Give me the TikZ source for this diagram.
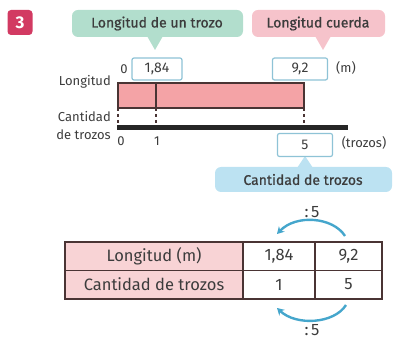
\documentclass[tikz,border=0pt]{standalone}
\usepackage{fontspec}
\setmainfont{Fira Sans}
\usetikzlibrary{arrows.meta}
\definecolor{txt}{HTML}{3C3C3C}
\definecolor{badge}{HTML}{D23A62}
\definecolor{greenc}{HTML}{B2DECD}
\definecolor{pinkc}{HTML}{F6C3CB}
\definecolor{bluec}{HTML}{BCE2F2}
\definecolor{boxb}{HTML}{8EC3D6}
\definecolor{barfill}{HTML}{F4A3A6}
\definecolor{cellpink}{HTML}{F8D3D5}
\definecolor{dark}{HTML}{4A3434}
\definecolor{arrowc}{HTML}{45A6CC}
\begin{document}
\begin{tikzpicture}[x=1pt,y=-1pt,
  every node/.style={text=txt,inner sep=0pt,font=\fontsize{14}{16}\selectfont},
  callout/.style={rounded corners=6pt,inner sep=0pt},
  callouttxt/.style={font=\fontsize{14}{16}\selectfont\addfontfeature{FakeBold=0.8}},
  valbox/.style={draw=boxb,line width=1.2pt,fill=white,rounded corners=2pt,minimum height=22pt,inner sep=0pt},
  smalltxt/.style={font=\fontsize{13}{15}\selectfont},
  tabtxt/.style={font=\fontsize{16.5}{18}\selectfont},
  cell/.style={draw=dark,line width=1.3pt},
  arc/.style={draw=arrowc,line width=2.4pt,-{Stealth[length=7pt,width=8pt]}}]
\useasboundingbox (0,0) rectangle (394,339);
% badge
\node[fill=badge,rounded corners=3.5pt,minimum width=25pt,minimum height=25pt,text=white,font=\bfseries\fontsize{17}{18}\selectfont] (badge) at (20,22.5) {3};
% callouts
\fill[greenc,callout] (72,10) rectangle (243,37);
\fill[greenc] (147,36) -- (163,36) -- (155,50) -- cycle;
\node[callouttxt] (cg) at (157,23.5) {Longitud de un trozo};
\fill[pinkc,callout] (252,10) rectangle (385,37);
\fill[pinkc] (315,36) -- (331,36) -- (323,50) -- cycle;
\node[callouttxt] (cp) at (318,23.5) {Longitud cuerda};
% value boxes
\node[valbox,minimum width=50pt] (b184) at (157,69) {1,84};
\node[valbox,minimum width=55pt] (b92) at (300,69) {9,2};
\node[smalltxt] (z0) at (124,69) {0};
\node[smalltxt] (um) at (346,68) {(m)};
% labels
\node[smalltxt,anchor=east] (lon) at (111,82) {Longitud};
\node[smalltxt,anchor=east] (cant) at (111,117) {Cantidad};
\node[smalltxt,anchor=east] (detr) at (111,135) {de trozos};
% bar
\draw[dark,line width=1.3pt,fill=barfill] (118,83) rectangle (304,108);
\draw[dark,line width=1.3pt] (156,83) -- (156,108);
% dashed
\draw[dark,line width=1.3pt,dash pattern=on 3pt off 3pt] (118,108) -- (118,126);
\draw[dark,line width=1.3pt,dash pattern=on 3pt off 3pt] (156,108) -- (156,126);
\draw[dark,line width=1.3pt,dash pattern=on 3pt off 3pt] (304,108) -- (304,126);
% thick axis
\draw[black!85,line width=4.5pt] (117,127.5) -- (348,127.5);
\node[smalltxt] (x0) at (121,141) {0};
\node[smalltxt] (x1) at (157,141) {1};
% box 5 and blue callout
\fill[bluec,callout] (215,167) rectangle (392,192);
\fill[bluec] (297,168) -- (313,168) -- (305,156) -- cycle;
\node[callouttxt] (cb) at (303,179.5) {Cantidad de trozos};
\node[valbox,minimum width=55pt,minimum height=23pt] (b5) at (305,145) {5};
\node[smalltxt] (ut) at (364,143) {(trozos)};
% table
\path[fill=cellpink] (65,242) rectangle (243,299);
\node[tabtxt] (h1) at (154,256) {Longitud (m)};
\node[tabtxt] (h2) at (154,284.5) {Cantidad de trozos};
\node[tabtxt] (t184) at (279,256) {1,84};
\node[tabtxt] (t92) at (348.5,256) {9,2};
\node[tabtxt] (t1) at (279,284.5) {1};
\node[tabtxt] (t5) at (348.5,284.5) {5};
\draw[cell] (65,242) rectangle (382,299);
\draw[cell] (65,270.5) -- (382,270.5);
\draw[cell] (243,242) -- (243,299);
\draw[cell] (315,242) -- (315,299);
% arcs
\coordinate (a1s) at (345,236);
\coordinate (a1e) at (277,234);
\coordinate (a2s) at (346,305);
\coordinate (a2e) at (277,308);
\draw[arc] (a1s) .. controls (333,217) and (296,214) .. (a1e);
\draw[arc] (a2s) .. controls (334,324) and (296,326) .. (a2e);
\node[tabtxt] (d1) at (312,212) {:\,5};
\node[tabtxt] (d2) at (312,330) {:\,5};
\end{tikzpicture}
\end{document}
